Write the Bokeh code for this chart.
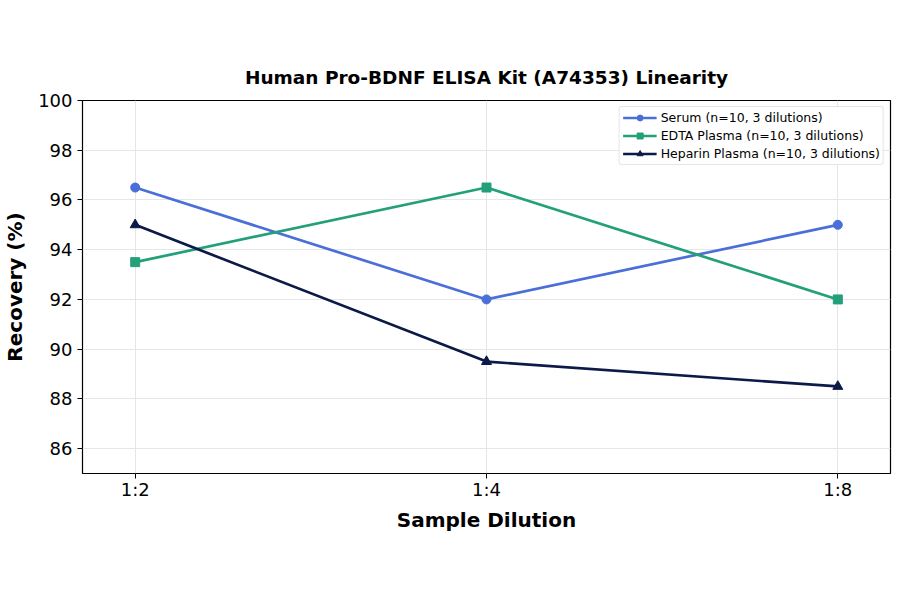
from bokeh.plotting import figure
from bokeh.models import Range1d, FixedTicker, Legend, LegendItem
from bokeh.embed import file_html
from bokeh.resources import INLINE

dilutions = ["1:2", "1:4", "1:8"]
serum = [96.5, 92.0, 95.0]
edta = [93.5, 96.5, 92.0]
heparin = [95.0, 89.5, 88.5]

x = list(range(len(dilutions)))
FONT = "DejaVu Sans"

p = figure(width=892, height=586, output_backend="svg", toolbar_location=None,
           x_range=Range1d(-0.15, 2.15), y_range=Range1d(85, 100),
           min_border_left=82, min_border_right=2, min_border_top=100, min_border_bottom=113,
           title="Human Pro-BDNF ELISA Kit (A74353) Linearity")

p.title.align = "center"
p.title.text_font = FONT
p.title.text_font_size = "18.5px"
p.title.text_font_style = "bold"
p.title.text_color = "black"
p.title.standoff = 25

p.outline_line_color = "black"
p.outline_line_width = 1.2

p.xaxis.ticker = FixedTicker(ticks=x)
p.xaxis.major_label_overrides = {i: d for i, d in zip(x, dilutions)}
p.yaxis.ticker = FixedTicker(ticks=[86, 88, 90, 92, 94, 96, 98, 100])

for ax in (p.xaxis, p.yaxis):
    ax.axis_label_text_font = FONT
    ax.axis_label_text_font_size = "20px"
    ax.axis_label_text_font_style = "bold"
    ax.axis_label_text_color = "black"
    ax.major_label_text_font = FONT
    ax.major_label_text_font_size = "18px"
    ax.major_label_text_color = "black"
    ax.axis_line_color = None
    ax.major_tick_line_color = "black"
    ax.major_tick_out = 5
    ax.major_tick_in = 0
    ax.minor_tick_line_color = None

p.xaxis.axis_label = "Sample Dilution"
p.yaxis.axis_label = "Recovery (%)"
p.xaxis.major_label_standoff = 0
p.xaxis.axis_label_standoff = 5
p.yaxis.axis_label_standoff = 8

p.xgrid.grid_line_color = "#e6e6e6"
p.ygrid.grid_line_color = "#e6e6e6"

items = []
r1 = p.line(x, serum, line_color="#4a6fd8", line_width=2.7)
m1 = p.scatter(x, serum, marker="circle", size=9, color="#4a6fd8")
items.append(LegendItem(label="Serum (n=10, 3 dilutions)", renderers=[r1, m1]))

r2 = p.line(x, edta, line_color="#23a07a", line_width=2.7)
m2 = p.scatter(x, edta, marker="square", size=9, color="#23a07a")
items.append(LegendItem(label="EDTA Plasma (n=10, 3 dilutions)", renderers=[r2, m2]))

r3 = p.line(x, heparin, line_color="#0c1a48", line_width=2.7)
m3 = p.scatter(x, heparin, marker="triangle", size=10, color="#0c1a48")
items.append(LegendItem(label="Heparin Plasma (n=10, 3 dilutions)", renderers=[r3, m3]))

legend = Legend(items=items, location="top_right")
legend.label_text_font = FONT
legend.label_text_font_size = "12.5px"
legend.label_text_color = "black"
legend.label_height = 15
legend.glyph_height = 15
legend.glyph_width = 34
legend.label_standoff = 4
legend.spacing = 3
legend.padding = 3
legend.margin = 6
legend.border_line_color = "#cccccc"
legend.border_radius = 3
legend.background_fill_alpha = 0.9
p.add_layout(legend)

open("out.html", "w").write(file_html(p, INLINE))
